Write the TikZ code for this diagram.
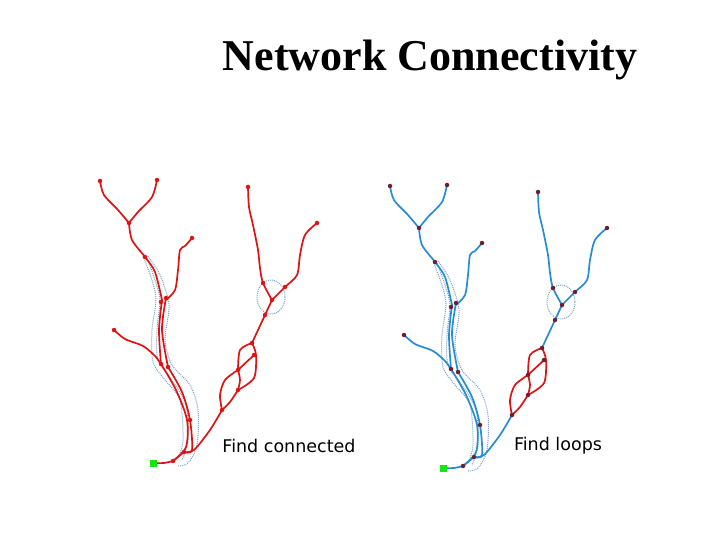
\documentclass[tikz,border=0pt]{standalone}
\usepackage{fontspec}
\setmainfont{Liberation Serif}
\newfontfamily\labfont{DejaVu Sans}
\definecolor{rred}{RGB}{220,20,20}
\definecolor{rblue}{RGB}{40,140,210}
\definecolor{dotblue}{RGB}{120,160,200}
\definecolor{nodedark}{RGB}{110,30,50}
\definecolor{outg}{RGB}{20,230,20}
\newcommand{\rivernet}[3]{%
 \tikzset{stem/.style={draw=#1,line width=1.7pt,line cap=round},
          loopline/.style={draw=#2,line width=1.7pt,line cap=round},
          jn/.style={fill=#3,circle,inner sep=0pt,minimum size=4.5pt},
          dotl/.style={dotblue,densely dotted,line width=1pt}}
 % dotted outlines
 \draw[dotl] plot[smooth] coordinates {(143,256)(152,280)(156,300)(152,330)(153,362)(165,380)(180,400)(183,440)(178,458)};
 \draw[dotl] plot[smooth] coordinates {(148,256)(160,275)(169,305)(165,340)(172,365)(190,385)(198,410)(197,445)(188,463)(178,466)};
 \draw[dotl] plot[smooth] coordinates {(147,258)(155,280)(160,300)(157,330)(158,360)(172,380)(186,405)(188,440)(182,460)};
 \draw[dotl] (271,297) ellipse (14 and 17);
 % left river
 \draw[stem] plot[smooth] coordinates {(100,181)(104,195)(118,210)(129,223)};
 \draw[stem] plot[smooth] coordinates {(157,180)(152,197)(138,212)(129,223)};
 \draw[stem] plot[smooth] coordinates {(129,223)(132,240)(145,257)(155,272)(162,300)};
 \draw[stem] plot[smooth] coordinates {(192,238)(185,246)(180,250)(178,270)(175,290)(166,300)};
 \draw[stem] plot[smooth] coordinates {(162,300)(159,330)(161,364)};
 \draw[stem] plot[smooth] coordinates {(166,298)(162,330)(168,367)};
 \draw[stem] plot[smooth] coordinates {(114,330)(125,339)(143,346)(155,356)(161,364)};
 \draw[stem] plot[smooth] coordinates {(161,364)(176,390)(187,420)(186,447)(173,461)};
 \draw[stem] plot[smooth] coordinates {(168,367)(182,392)(190,420)(192,450)(184,452)};
 \draw[stem] (173,461) -- (184,452);
 \draw[stem] plot[smooth] coordinates {(153,463)(164,463)(173,461)};
 % right river
 \draw[stem] plot[smooth] coordinates {(248,187)(249,207)(253,225)(258,250)(260,268)(263,283)(272,300)};
 \draw[stem] plot[smooth] coordinates {(317,223)(305,235)(300,255)(297,275)(285,287)(272,300)};
 \draw[stem] plot[smooth] coordinates {(272,300)(265,315)(252,343)};
 \draw[stem] plot[smooth] coordinates {(222,410)(210,430)(194,450)(184,452)};
 % braided loops
 \draw[loopline] plot[smooth] coordinates {(252,343)(240,350)(238,370)};
 \draw[loopline] plot[smooth] coordinates {(252,343)(256,355)(254,378)(238,390)};
 \draw[loopline] (254,355) -- (238,370);
 \draw[loopline] plot[smooth] coordinates {(238,370)(240,380)(238,390)};
 \draw[loopline] plot[smooth] coordinates {(238,370)(225,380)(220,395)(222,410)};
 \draw[loopline] plot[smooth] coordinates {(238,390)(230,402)(222,410)};
 % junction dots
 \foreach \p in {(100,181),(157,180),(129,223),(145,257),(161,302),(166,298),(192,238),(161,364),(168,367),(114,330),(190,420),(184,452),(173,461),(248,187),(317,223),(263,283),(272,300),(285,287),(265,315),(252,343),(254,355),(238,370),(238,390),(222,410)}
   \node[jn] at \p {};
 \node[fill=outg,minimum size=7pt,inner sep=0pt] at (153,463) {};
}
\begin{document}
\begin{tikzpicture}[x=1pt,y=-1pt]
\useasboundingbox (0,0) rectangle (720,540);
\fill[white] (0,0) rectangle (720,540);
\node[font=\bfseries\fontsize{44}{48}\selectfont] (title) at (430,60) {Network Connectivity};
\begin{scope}
 \rivernet{rred}{rred}{rred}
\end{scope}
\begin{scope}[shift={(290,5)}]
 \rivernet{rblue}{rred}{nodedark}
\end{scope}
\node[font=\labfont\fontsize{17.5}{20}\selectfont] (l1) at (289,446) {Find connected};
\node[font=\labfont\fontsize{17.5}{20}\selectfont] (l2) at (558,446) {Find loops};
\end{tikzpicture}
\end{document}
